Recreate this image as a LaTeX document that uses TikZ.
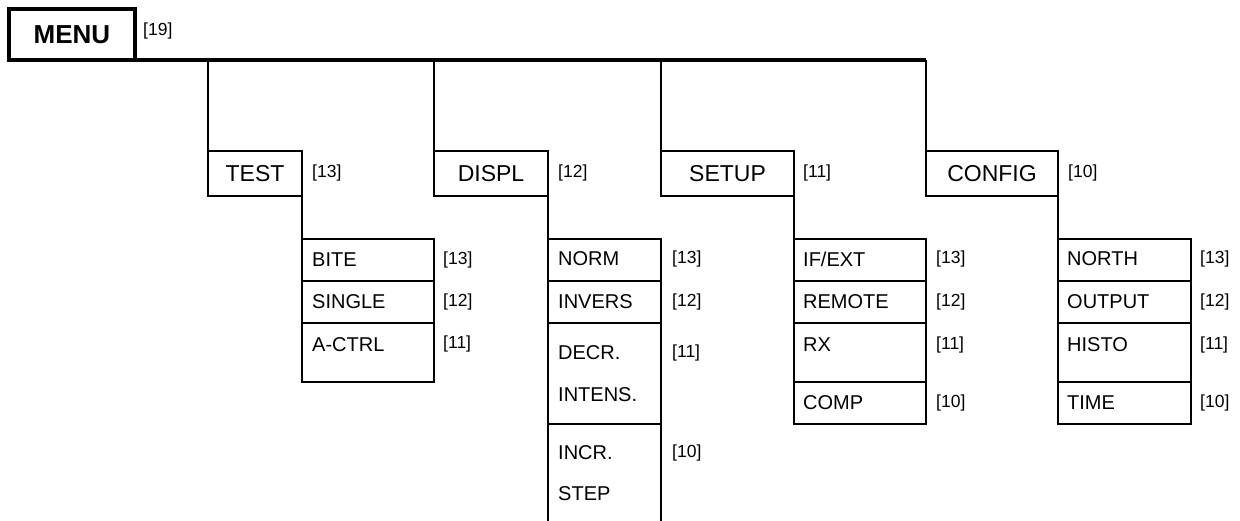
\documentclass[tikz,border=0pt]{standalone}
\usepackage{fontspec}
\setmainfont{Liberation Sans}
\begin{document}
\begin{tikzpicture}[x=1pt,y=-1pt,
  box/.style={draw, line width=2pt, outer sep=0pt, inner sep=0pt},
  mainbox/.style={box, minimum height=45pt, font=\fontsize{23}{27}\selectfont},
  rowbox/.style={box},
  rowtext/.style={anchor=west, inner sep=0pt, font=\fontsize{20}{24}\selectfont},
  lab/.style={anchor=west, inner sep=0pt, font=\fontsize{17.5}{20}\selectfont},
  conn/.style={line width=2pt},
  bar/.style={line width=3.5pt}]
\useasboundingbox (0,0) rectangle (1240,520);
\clip (0,0) rectangle (1240,520);

% MENU
\node[draw, line width=3.5pt, outer sep=0pt, inner sep=0pt, minimum width=126pt, minimum height=51pt,
      font=\bfseries\fontsize{26}{30}\selectfont] (menu) at (72,34.5) {MENU};
\node[lab] (l19) at (143,31) {[19]};

% main boxes
\node[mainbox, minimum width=94pt]  (test)   at (255,173.5)   {TEST};
\node[mainbox, minimum width=114pt] (displ)  at (491,173.5)   {DISPL};
\node[mainbox, minimum width=133pt] (setup)  at (727.5,173.5) {SETUP};
\node[mainbox, minimum width=132pt] (config) at (992,173.5)   {CONFIG};
\node[lab] (ltest)   at (312,173)  {[13]};
\node[lab] (ldispl)  at (558,173)  {[12]};
\node[lab] (lsetup)  at (803,173)  {[11]};
\node[lab] (lconfig) at (1068,173) {[10]};

% main bar and drops
\coordinate (barend) at (config.north west |- menu.south);
\draw[bar] (menu.south west) -- (barend);
\draw[conn] (test.north west |- menu.south) -- (test.north west);
\draw[conn] (displ.north west |- menu.south) -- (displ.north west);
\draw[conn] (setup.north west |- menu.south) -- (setup.north west);
\draw[conn] (barend) -- (config.north west);

% TEST submenu
\node[rowbox, minimum width=132pt, minimum height=42pt] (bite)   at (368,260)   {};
\node[rowbox, minimum width=132pt, minimum height=42pt] (single) at (368,302)   {};
\node[rowbox, minimum width=132pt, minimum height=59pt] (actrl)  at (368,352.5) {};
\draw[conn] (test.south east) -- (bite.north west);
\node[rowtext] (tbite)   at (312,260) {BITE};
\node[rowtext] (tsingle) at (312,302) {SINGLE};
\node[rowtext] (tactrl)  at (312,345) {A-CTRL};
\node[lab] (lbite)   at (443,260) {[13]};
\node[lab] (lsingle) at (443,302) {[12]};
\node[lab] (lactrl)  at (443,344) {[11]};

% DISPL submenu
\node[rowbox, minimum width=113pt, minimum height=42pt]  (norm)   at (604.5,260)   {};
\node[rowbox, minimum width=113pt, minimum height=42pt]  (invers) at (604.5,302)   {};
\node[rowbox, minimum width=113pt, minimum height=101pt] (decr)   at (604.5,373.5) {};
\node[rowbox, minimum width=113pt, minimum height=120pt] (incr)   at (604.5,484)   {};
\draw[conn] (displ.south east) -- (norm.north west);
\node[rowtext] (tnorm)   at (558,259) {NORM};
\node[rowtext] (tinvers) at (558,302) {INVERS};
\node[rowtext] (tdecr)   at (558,353) {DECR.};
\node[rowtext] (tintens) at (558,395) {INTENS.};
\node[rowtext] (tincr)   at (558,453) {INCR.};
\node[rowtext] (tstep)   at (558,494) {STEP};
\node[lab] (lnorm)   at (672,259) {[13]};
\node[lab] (linvers) at (672,302) {[12]};
\node[lab] (ldecr)   at (672,353) {[11]};
\node[lab] (lincr)   at (672,453) {[10]};

% SETUP submenu
\node[rowbox, minimum width=132pt, minimum height=42pt] (ifext)  at (860,260)   {};
\node[rowbox, minimum width=132pt, minimum height=42pt] (remote) at (860,302)   {};
\node[rowbox, minimum width=132pt, minimum height=59pt] (rx)     at (860,352.5) {};
\node[rowbox, minimum width=132pt, minimum height=42pt] (comp)   at (860,403)   {};
\draw[conn] (setup.south east) -- (ifext.north west);
\node[rowtext] (tifext)  at (803,259) {IF/EXT};
\node[rowtext] (tremote) at (803,302) {REMOTE};
\node[rowtext] (trx)     at (803,345) {RX};
\node[rowtext] (tcomp)   at (803,403) {COMP};
\node[lab] (lifext)  at (936,259) {[13]};
\node[lab] (lremote) at (936,302) {[12]};
\node[lab] (lrx)     at (936,345) {[11]};
\node[lab] (lcomp)   at (936,403) {[10]};

% CONFIG submenu
\node[rowbox, minimum width=133pt, minimum height=42pt] (north)  at (1124.5,260)   {};
\node[rowbox, minimum width=133pt, minimum height=42pt] (output) at (1124.5,302)   {};
\node[rowbox, minimum width=133pt, minimum height=59pt] (histo)  at (1124.5,352.5) {};
\node[rowbox, minimum width=133pt, minimum height=42pt] (time)   at (1124.5,403)   {};
\draw[conn] (config.south east) -- (north.north west);
\node[rowtext] (tnorth)  at (1067,259) {NORTH};
\node[rowtext] (toutput) at (1067,302) {OUTPUT};
\node[rowtext] (thisto)  at (1067,345) {HISTO};
\node[rowtext] (ttime)   at (1067,403) {TIME};
\node[lab] (lnorth)  at (1200,259) {[13]};
\node[lab] (loutput) at (1200,302) {[12]};
\node[lab] (lhisto)  at (1200,345) {[11]};
\node[lab] (ltime)   at (1200,403) {[10]};
\end{tikzpicture}
\end{document}
